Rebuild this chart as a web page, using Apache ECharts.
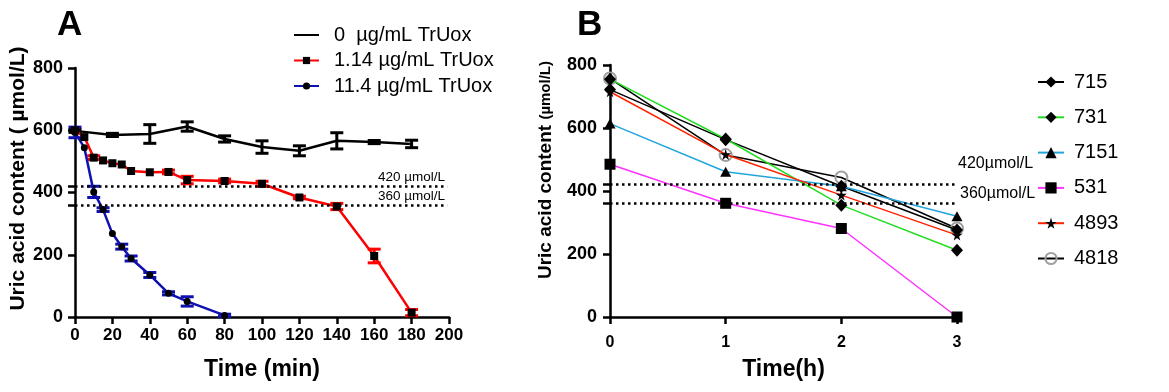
<!DOCTYPE html>
<html>
<head>
<meta charset="utf-8">
<script src="https://cdn.jsdelivr.net/npm/echarts@6/dist/echarts.min.js"></script>
<style>html,body{margin:0;padding:0;background:#fff}#c{width:1169px;height:392px}</style>
</head>
<body>
<div id="c"></div>
<script>
// ---------- Panel A data ----------
const a_xTicks = [0, 20, 40, 60, 80, 100, 120, 140, 160, 180, 200];
const a_yTicks = [0, 200, 400, 600, 800];
const a_names = ['0  µg/mL TrUox', '1.14 µg/mL TrUox', '11.4 µg/mL TrUox'];

const a0_time = [0, 20, 40, 60, 80, 100, 120, 140, 160, 180];
const a0_val  = [598, 585, 588, 612, 572, 546, 534, 566, 562, 556];
const a0_err  = [5, 5, 30, 15, 10, 20, 16, 26, 5, 12];

const a1_time = [0, 5, 10, 15, 20, 25, 30, 40, 50, 60, 80, 100, 120, 140, 160, 180];
const a1_val  = [600, 578, 512, 503, 494, 490, 469, 465, 466, 440, 437, 428, 384, 355, 196, 14];
const a1_err  = [0, 0, 6, 0, 0, 0, 0, 0, 6, 12, 6, 8, 4, 10, 22, 10];

const a2_time = [0, 5, 10, 15, 20, 25, 30, 40, 50, 60, 80];
const a2_val  = [593, 544, 402, 345, 268, 226, 188, 135, 76, 50, 5];
const a2_err  = [17, 0, 18, 6, 0, 8, 8, 8, 5, 15, 4];

const refLevels = [420, 360];
const a_refLabels = ['420 µmol/L', '360 µmol/L'];

// ---------- Panel B data ----------
const b_time = [0, 1, 2, 3];
const b_yTicks = [0, 200, 400, 600, 800];
const b_names = ['715', '731', '7151', '531', '4893', '4818'];
const b_715  = [722, 563, 415, 276];
const b_731  = [755, 565, 355, 212];
const b_7151 = [614, 461, 415, 320];
const b_531  = [485, 361, 281, 0];
const b_4893 = [715, 516, 387, 260];
const b_4818 = [757, 514, 443, 281];
const b_refLabels = ['420µmol/L', '360µmol/L'];

const FONT = 'Liberation Sans, Arial, Helvetica, sans-serif';
const STAR = 'path://M50,0 L61,35 L98,35 L68,57 L79,91 L50,70 L21,91 L32,57 L2,35 L39,35 Z';

function pairs(xs, ys) { return xs.map((x, i) => [x, ys[i]]); }
function triples(xs, ys, es) { return xs.map((x, i) => [x, ys[i], es[i]]); }

function errSeries(name, xs, ys, es, color, gi) {
  return {
    type: 'custom', name: name, xAxisIndex: gi, yAxisIndex: gi, silent: true, z: 1,
    encode: { x: 0, y: 1 },
    data: triples(xs, ys, es),
    renderItem: function (params, api) {
      const x = api.value(0), y = api.value(1), e = api.value(2);
      if (!e) return null;
      const t = api.coord([x, y + e]), b = api.coord([x, y - e]);
      const hw = 6.5;
      const st = { stroke: color, lineWidth: 3 };
      return { type: 'group', children: [
        { type: 'line', shape: { x1: t[0], y1: t[1], x2: b[0], y2: b[1] }, style: st },
        { type: 'line', shape: { x1: t[0] - hw, y1: t[1], x2: t[0] + hw, y2: t[1] }, style: st },
        { type: 'line', shape: { x1: b[0] - hw, y1: b[1], x2: b[0] + hw, y2: b[1] }, style: st }
      ]};
    }
  };
}

const axisLineStyle = { color: '#000', width: 2.5 };
const tickStyle = { length: 7, lineStyle: { width: 2.5, color: '#000' } };
const tickLabelStyle = { color: '#000', fontFamily: FONT, fontWeight: 'bold', fontSize: 17 };

const refLineA = {
  silent: true, symbol: 'none',
  lineStyle: { color: '#000', type: [2.5, 3.5], width: 2.5 },
  label: { show: true, position: 'insideEndTop', distance: 2, color: '#000', fontFamily: FONT, fontSize: 13.5 },
  data: refLevels.map((v, i) => [
    { coord: [0, v], label: { formatter: a_refLabels[i] } },
    { coord: [199, v] }
  ])
};
const refLineB = {
  silent: true, symbol: 'none',
  lineStyle: { color: '#000', type: [2.5, 3.5], width: 2.5 },
  label: { show: false },
  data: refLevels.map(v => [{ coord: [0, v] }, { coord: [2.99, v] }])
};

const chart = echarts.init(document.getElementById('c'));
const option = {
  animation: false,
  backgroundColor: '#fff',
  textStyle: { fontFamily: FONT },
  title: [
    { text: 'A', left: 52, top: 3, textStyle: { fontSize: 35, fontWeight: 'bold', color: '#000', fontFamily: FONT } },
    { text: 'B', left: 572, top: 3, textStyle: { fontSize: 35, fontWeight: 'bold', color: '#000', fontFamily: FONT } }
  ],
  grid: [
    { left: 75, top: 68, width: 374, height: 249, outerBoundsMode: 'none' },
    { left: 610, top: 65, width: 347, height: 252, outerBoundsMode: 'none' }
  ],
  legend: [
    {
      data: [
        { name: a_names[0], itemStyle: { opacity: 0 } },
        { name: a_names[1] },
        { name: a_names[2] }
      ],
      orient: 'vertical', left: 293, top: 25, padding: 0, itemWidth: 25, itemHeight: 9, itemGap: 5.5,
      textStyle: { fontSize: 20, color: '#000', fontFamily: FONT, padding: [0, 0, 0, 10], lineHeight: 20 }
    },
    {
      data: b_names, orient: 'vertical', left: 1037, top: 72, padding: 0, itemWidth: 26, itemHeight: 14, itemGap: 15.3,
      textStyle: { fontSize: 20, color: '#000', fontFamily: FONT, padding: [0, 0, 0, 5], lineHeight: 20 }
    }
  ],
  xAxis: [
    {
      gridIndex: 0, type: 'value', min: a_xTicks[0], max: a_xTicks[a_xTicks.length - 1], interval: 20,
      name: 'Time (min)', nameLocation: 'middle', nameGap: 41,
      nameTextStyle: { fontFamily: FONT, fontWeight: 'bold', fontSize: 23, color: '#000' },
      axisLine: { lineStyle: axisLineStyle }, axisTick: tickStyle,
      axisLabel: Object.assign({ margin: 10 }, tickLabelStyle), splitLine: { show: false }
    },
    {
      gridIndex: 1, type: 'value', min: 0, max: 3, interval: 1,
      name: 'Time(h)', nameLocation: 'middle', nameGap: 41,
      nameTextStyle: { fontFamily: FONT, fontWeight: 'bold', fontSize: 23, color: '#000' },
      axisLine: { lineStyle: axisLineStyle }, axisTick: tickStyle,
      axisLabel: Object.assign({ margin: 18 }, tickLabelStyle, { fontSize: 16 }), splitLine: { show: false }
    }
  ],
  yAxis: [
    {
      gridIndex: 0, type: 'value', min: 0, max: 800, interval: 200,
      name: 'Uric acid content ( µmol/L)', nameLocation: 'middle', nameGap: 45, nameRotate: 90,
      nameTextStyle: { fontFamily: FONT, fontWeight: 'bold', fontSize: 21, color: '#000', padding: [0, 0, 0, 28] },
      axisLine: { show: true, lineStyle: axisLineStyle },
      axisTick: Object.assign({ show: true, customValues: [0, 200, 360, 400, 420, 600, 800] }, tickStyle),
      axisLabel: Object.assign({ margin: 12, customValues: a_yTicks }, tickLabelStyle, { fontSize: 18 }), splitLine: { show: false }
    },
    {
      gridIndex: 1, type: 'value', min: 0, max: 800, interval: 200,
      name: '{a|Uric acid content }{b|(µmol/L)}', nameLocation: 'middle', nameGap: 55, nameRotate: 90,
      nameTextStyle: { fontFamily: FONT, fontWeight: 'bold', fontSize: 19, color: '#000', padding: [0, 0, 0, 42],
        rich: { a: { fontFamily: FONT, fontWeight: 'bold', fontSize: 19, color: '#000' },
                b: { fontFamily: FONT, fontWeight: 'bold', fontSize: 15, color: '#000' } } },
      axisLine: { show: true, lineStyle: axisLineStyle },
      axisTick: Object.assign({ show: true, customValues: [0, 200, 360, 400, 420, 600, 800] }, tickStyle),
      axisLabel: Object.assign({ margin: 13, customValues: b_yTicks }, tickLabelStyle, { fontSize: 18 }), splitLine: { show: false }
    }
  ],
  series: [
    errSeries('e0', a0_time, a0_val, a0_err, '#000', 0),
    errSeries('e1', a1_time, a1_val, a1_err, '#ff0000', 0),
    errSeries('e2', a2_time, a2_val, a2_err, '#1010b0', 0),
    {
      name: a_names[0], type: 'line', xAxisIndex: 0, yAxisIndex: 0, data: pairs(a0_time, a0_val),
      symbol: 'none', lineStyle: { color: '#000', width: 2.5 }, itemStyle: { color: '#000' }, z: 3,
      markLine: refLineA
    },
    {
      name: a_names[1], type: 'line', xAxisIndex: 0, yAxisIndex: 0, data: pairs(a1_time, a1_val),
      symbol: 'rect', symbolSize: 8, lineStyle: { color: '#ff0000', width: 2.5 }, itemStyle: { color: '#000' }, z: 3
    },
    {
      name: a_names[2], type: 'line', xAxisIndex: 0, yAxisIndex: 0, data: pairs(a2_time, a2_val),
      symbol: 'circle', symbolSize: 7, lineStyle: { color: '#1010b0', width: 2.5 }, itemStyle: { color: '#000' }, z: 3
    },
    {
      name: b_names[5], type: 'line', xAxisIndex: 1, yAxisIndex: 1, data: pairs(b_time, b_4818),
      symbol: 'circle', symbolSize: 12, lineStyle: { color: '#000', width: 1.5 },
      itemStyle: { color: 'rgba(255,255,255,0)', borderColor: '#a0a0a0', borderWidth: 2 }, z: 3
    },
    {
      name: b_names[0], type: 'line', xAxisIndex: 1, yAxisIndex: 1, data: pairs(b_time, b_715),
      symbol: 'diamond', symbolSize: [12, 13], lineStyle: { color: '#000', width: 1.5 }, itemStyle: { color: '#000' }, z: 4,
      markLine: refLineB
    },
    {
      name: b_names[1], type: 'line', xAxisIndex: 1, yAxisIndex: 1, data: pairs(b_time, b_731),
      symbol: 'diamond', symbolSize: [12, 13], lineStyle: { color: '#22dd22', width: 1.5 }, itemStyle: { color: '#000' }, z: 4
    },
    {
      name: b_names[2], type: 'line', xAxisIndex: 1, yAxisIndex: 1, data: pairs(b_time, b_7151),
      symbol: 'triangle', symbolSize: [11, 10], lineStyle: { color: '#22a5dd', width: 1.5 }, itemStyle: { color: '#000' }, z: 4
    },
    {
      name: b_names[3], type: 'line', xAxisIndex: 1, yAxisIndex: 1, data: pairs(b_time, b_531),
      symbol: 'rect', symbolSize: 11, lineStyle: { color: '#ff33ff', width: 1.5 }, itemStyle: { color: '#000' }, z: 4
    },
    {
      name: b_names[4], type: 'line', xAxisIndex: 1, yAxisIndex: 1, data: pairs(b_time, b_4893),
      symbol: STAR, symbolSize: 11, lineStyle: { color: '#ff2200', width: 1.5 }, itemStyle: { color: '#000' }, z: 4
    }
  ]
};
chart.setOption(option);

// Reference-line labels for panel B, placed from the axis scale
const p420 = chart.convertToPixel({ gridIndex: 1 }, [3, refLevels[0]]);
const p360 = chart.convertToPixel({ gridIndex: 1 }, [3, refLevels[1]]);
chart.setOption({
  graphic: [
    { type: 'text', left: p420[0] + 1, top: p420[1] - 29, style: { text: b_refLabels[0], fontSize: 16, fontFamily: FONT, fill: '#000' } },
    { type: 'text', left: p360[0] + 3, top: p360[1] - 18, style: { text: b_refLabels[1], fontSize: 16, fontFamily: FONT, fill: '#000' } }
  ]
});
</script>
</body>
</html>
